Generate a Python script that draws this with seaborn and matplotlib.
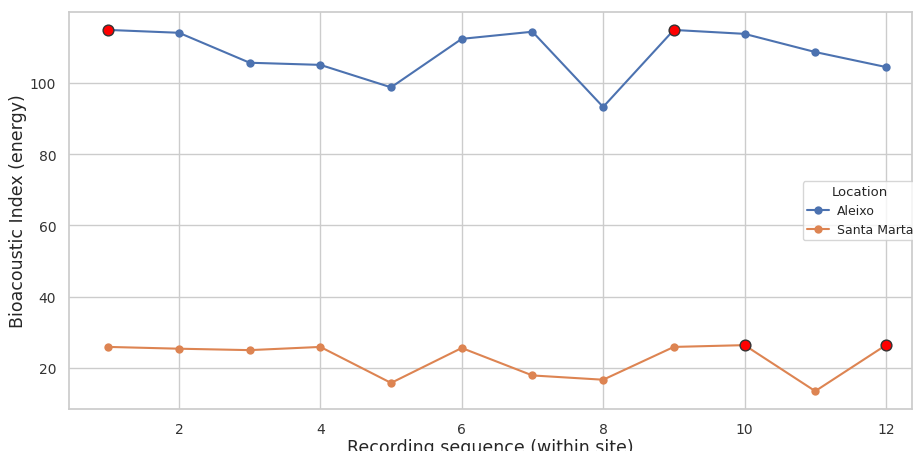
import numpy as np
import pandas as pd
import matplotlib
matplotlib.use("Agg")
import matplotlib.pyplot as plt
import seaborn as sns

# Values
sequence = list(range(1, 13))
aleixo = [114.8, 114.0, 105.6, 105.0, 98.7, 112.3, 114.3, 93.2, 114.8, 113.7, 108.6, 104.4]
santa_marta = [25.9, 25.4, 25.0, 25.9, 15.8, 25.6, 17.9, 16.7, 25.9, 26.4, 13.5, 26.4]
locations = ["Aleixo", "Santa Marta"]

df = pd.DataFrame({
    "Sequence": sequence * 2,
    "Energy": aleixo + santa_marta,
    "Location": [locations[0]] * 12 + [locations[1]] * 12,
})

sns.set_theme(style="whitegrid")
fig, ax = plt.subplots(figsize=(9.13, 4.52), dpi=100)
fig.subplots_adjust(left=0.076, right=0.999, top=0.971, bottom=0.093)

sns.lineplot(data=df, x="Sequence", y="Energy", hue="Location",
             marker="o", markersize=6, markeredgewidth=0, ax=ax)

# highlight the maximum of each location
for loc in locations:
    sub = df[df["Location"] == loc]
    top = sub[sub["Energy"] >= sub["Energy"].max() - 0.05]
    ax.scatter(top["Sequence"], top["Energy"], s=60, color="red",
               edgecolor="#333333", linewidth=1, zorder=5)

ax.set_xlabel("Recording sequence (within site)", fontsize=12.5, labelpad=1)
ax.set_ylabel("Bioacoustic Index (energy)", fontsize=12.5, labelpad=2)
ax.set_xlim(0.45, 12.37)
ax.set_ylim(8.5, 119.8)
ax.tick_params(labelsize=10, labelcolor="#333333")
ax.legend(title="Location", loc="center left", bbox_to_anchor=(0.863, 0.50),
          fontsize=9, title_fontsize=9.5, handlelength=1.8, borderpad=0.3,
          handletextpad=0.6)

fig.savefig("out.png", dpi=100)
